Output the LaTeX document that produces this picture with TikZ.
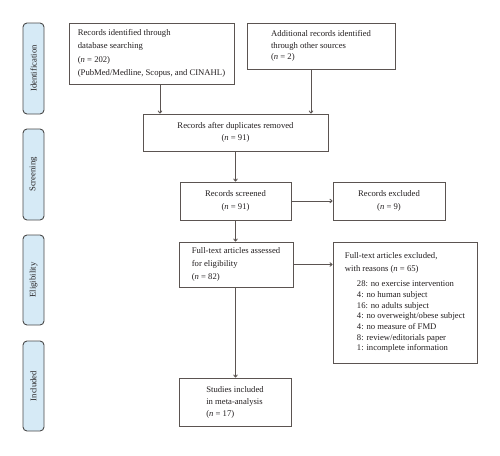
\documentclass[tikz,border=0pt]{standalone}
\usepackage{fontspec}
\setmainfont{Liberation Serif}
\usetikzlibrary{arrows.meta,calc}
\definecolor{boxline}{HTML}{5B5451}
\definecolor{lblfill}{HTML}{D6EAF6}
\definecolor{lblline}{HTML}{4A4A4A}
\definecolor{txt}{HTML}{231F20}
\tikzset{
  flowbox/.style={draw=boxline, line width=0.95pt, fill=white, align=left, text=txt,
    inner sep=0pt, font=\fontsize{8.65}{13}\selectfont},
  phase/.style={draw=lblline, line width=0.9pt, fill=lblfill, rounded corners=4pt,
    rotate=90, minimum height=21pt, inner sep=0pt, text=txt, font=\fontsize{8.65}{10}\selectfont},
  arr/.style={draw=boxline, line width=0.9pt, -{To[length=3pt,width=4.5pt]}}
}
\begin{document}
\begin{tikzpicture}[x=1pt,y=-1pt]
\useasboundingbox (0,0) rectangle (500,455);
% phase labels
\node[phase, minimum width=91pt] (L1) at (33.5,68.5) {Identification};
\node[phase, minimum width=91pt] (L2) at (33.5,174.5) {Screening};
\node[phase, minimum width=90pt] (L3) at (33.5,280) {Eligibility};
\node[phase, minimum width=90pt] (L4) at (33.5,386) {Included};
% boxes
\node[flowbox, minimum width=165pt, minimum height=61pt, font=\fontsize{8.65}{13.5}\selectfont] (b1) at (151.5,53.5)
  {Records identified through\\database searching\\(\textit{n} = 202)\\(PubMed/Medline, Scopus, and CINAHL)};
\node[flowbox, minimum width=148pt, minimum height=46pt, font=\fontsize{8.65}{11.8}\selectfont] (b2) at (321,46)
  {Additional records identified\\through other sources\\(\textit{n} = 2)};
\node[flowbox, align=center, minimum width=185pt, minimum height=37pt, font=\fontsize{8.65}{11.3}\selectfont] (b3) at (235.5,132.5)
  {Records after duplicates removed\\(\textit{n} = 91)};
\node[flowbox, align=center, minimum width=111pt, minimum height=38pt, font=\fontsize{8.65}{13.3}\selectfont] (b4) at (235.5,201)
  {Records screened\\(\textit{n} = 91)};
\node[flowbox, align=center, minimum width=112pt, minimum height=38pt, font=\fontsize{8.65}{13}\selectfont] (b5) at (389,201)
  {Records excluded\\(\textit{n} = 9)};
\node[flowbox, minimum width=114pt, minimum height=45pt, font=\fontsize{8.65}{13.3}\selectfont] (b6) at (236,264.5)
  {Full-text articles assessed\\for eligibility\\(\textit{n} = 82)};
\node[flowbox, minimum width=144pt, minimum height=121pt, font=\fontsize{8.65}{10.7}\selectfont] (b7) at (405,302.5)
  {Full-text articles excluded,\\[2pt]with reasons (\textit{n} = 65)\\[4.9pt]
   \hspace*{12pt}28: no exercise intervention\\
   \hspace*{12pt}4: no human subject\\
   \hspace*{12pt}16: no adults subject\\
   \hspace*{12pt}4: no overweight/obese subject\\
   \hspace*{12pt}4: no measure of FMD\\
   \hspace*{12pt}8: review/editorials paper\\
   \hspace*{12pt}1: incomplete information};
\node[flowbox, minimum width=112pt, minimum height=48pt, font=\fontsize{8.65}{12}\selectfont] (b8) at (235,402)
  {Studies included\\in meta-analysis\\(\textit{n} = 17)};
% connectors
\draw[arr] ([xshift=8.5pt]b1.south) -- ([xshift=8.5pt]b1.south |- b3.north);
\draw[arr] ([xshift=-10pt]b2.south) -- ([xshift=-10pt]b2.south |- b3.north);
\draw[arr] (b3.south) -- (b4.north);
\draw[arr] (b4.east) -- (b5.west);
\draw[arr] (b4.south) -- (b6.north -| b4.south);
\draw[arr] (b6.east) -- (b7.west |- b6.east);
\draw[arr] (b6.south -| b4.south) -- (b8.north -| b4.south);
\end{tikzpicture}
\end{document}
